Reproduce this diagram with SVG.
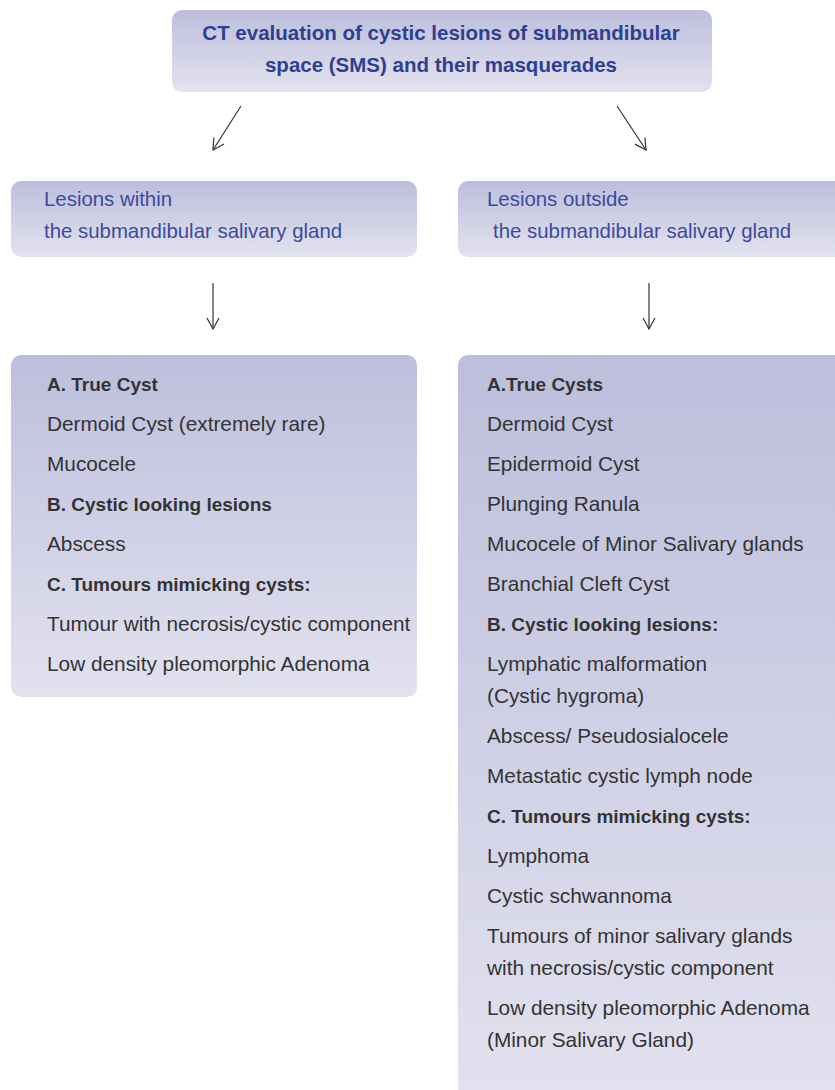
<svg xmlns="http://www.w3.org/2000/svg" width="835" height="1090" viewBox="0 0 835 1090">
<defs>
<linearGradient id="g" x1="0" y1="0" x2="0" y2="1">
<stop offset="0" stop-color="#bdbedc"/>
<stop offset="1" stop-color="#e2e2ef"/>
</linearGradient>
<marker id="ah" markerWidth="14" markerHeight="14" refX="12" refY="7" orient="auto" markerUnits="userSpaceOnUse">
<path d="M1,1 L12,7 L1,13" fill="none" stroke="#333" stroke-width="1.2"/>
</marker>
<style>
.box{fill:url(#g);}
.title{font-family:"Liberation Sans",Arial,sans-serif;font-size:20.5px;font-weight:bold;fill:#2f3f8f;}
.head{font-family:"Liberation Sans",Arial,sans-serif;font-size:20.4px;fill:#3b4b9e;}
.item{font-family:"Liberation Sans",Arial,sans-serif;font-size:20.8px;fill:#333;}
.b{font-weight:bold;font-size:19px;}
.conn{stroke:#333;stroke-width:1.2;fill:none;marker-end:url(#ah);}
</style>
</defs>
<rect width="835" height="1090" fill="#fff"/>
<g id="top">
<rect class="box" x="172" y="10" width="540" height="82" rx="10"/>
<text class="title" x="441" y="40" text-anchor="middle">CT evaluation of cystic lesions of submandibular</text>
<text class="title" x="441" y="72" text-anchor="middle">space (SMS) and their masquerades</text>
</g>
<g id="within">
<rect class="box" x="11" y="181" width="406" height="76" rx="10"/>
<text class="head" x="44" y="206">Lesions within</text>
<text class="head" x="44" y="238">the submandibular salivary gland</text>
</g>
<g id="outside">
<rect class="box" x="458" y="181" width="390" height="76" rx="10"/>
<text class="head" x="487" y="206">Lesions outside</text>
<text class="head" x="493" y="238">the submandibular salivary gland</text>
</g>
<g id="within-list">
<rect class="box" x="11" y="355" width="406" height="342" rx="10"/>
<text class="item b" x="47" y="391">A. True Cyst</text>
<text class="item" x="47" y="431">Dermoid Cyst (extremely rare)</text>
<text class="item" x="47" y="471">Mucocele</text>
<text class="item b" x="47" y="511">B. Cystic looking lesions</text>
<text class="item" x="47" y="551">Abscess</text>
<text class="item b" x="47" y="591">C. Tumours mimicking cysts:</text>
<text class="item" x="47" y="631">Tumour with necrosis/cystic component</text>
<text class="item" x="47" y="671">Low density pleomorphic Adenoma</text>
</g>
<g id="outside-list">
<rect class="box" x="458" y="355" width="390" height="750" rx="10"/>
<text class="item b" x="487" y="391">A.True Cysts</text>
<text class="item" x="487" y="431">Dermoid Cyst</text>
<text class="item" x="487" y="471">Epidermoid Cyst</text>
<text class="item" x="487" y="511">Plunging Ranula</text>
<text class="item" x="487" y="551">Mucocele of Minor Salivary glands</text>
<text class="item" x="487" y="591">Branchial Cleft Cyst</text>
<text class="item b" x="487" y="631">B. Cystic looking lesions:</text>
<text class="item" x="487" y="671">Lymphatic malformation</text>
<text class="item" x="487" y="703">(Cystic hygroma)</text>
<text class="item" x="487" y="743">Abscess/ Pseudosialocele</text>
<text class="item" x="487" y="783">Metastatic cystic lymph node</text>
<text class="item b" x="487" y="823">C. Tumours mimicking cysts:</text>
<text class="item" x="487" y="863">Lymphoma</text>
<text class="item" x="487" y="903">Cystic schwannoma</text>
<text class="item" x="487" y="943">Tumours of minor salivary glands</text>
<text class="item" x="487" y="975">with necrosis/cystic component</text>
<text class="item" x="487" y="1015">Low density pleomorphic Adenoma</text>
<text class="item" x="487" y="1047">(Minor Salivary Gland)</text>
</g>
<g id="connectors">
<line class="conn" x1="241" y1="106" x2="213" y2="150"/>
<line class="conn" x1="617" y1="106" x2="646" y2="150"/>
<line class="conn" x1="213" y1="283" x2="213" y2="329"/>
<line class="conn" x1="649" y1="283" x2="649" y2="329"/>
</g>
</svg>
